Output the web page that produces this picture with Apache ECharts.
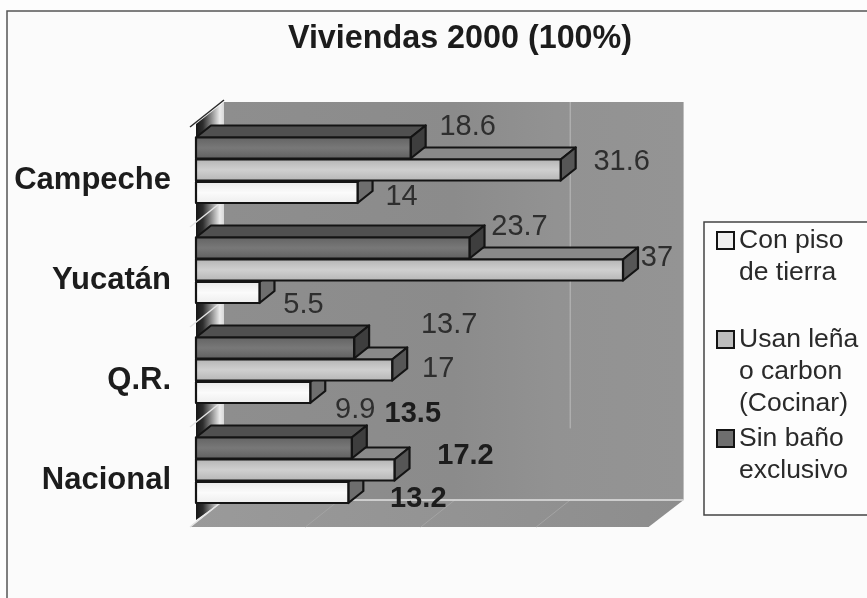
<!DOCTYPE html>
<html>
<head>
<meta charset="utf-8">
<style>html,body{margin:0;padding:0;background:#fdfdfd}#c{width:867px;height:598px}</style>
<script src="https://cdn.jsdelivr.net/npm/echarts@6/dist/echarts.min.js"></script>
</head>
<body>
<div id="c"></div>
<script>
// --- data (bottom-to-top category order, as the value axis stacks them) ---
const categories = ['Nacional', 'Q.R.', 'Yucatán', 'Campeche'];
const seriesNames = ['Con piso de tierra', 'Usan leña o carbon (Cocinar)', 'Sin baño exclusivo'];
const conPiso = [13.2, 9.9, 5.5, 14];
const usanLena = [17.2, 17, 37, 31.6];
const sinBano = [13.5, 13.7, 23.7, 18.6];
const xTicks = [0, 10, 20, 30, 40];
const legendLabels = ['Con piso\nde tierra\n', 'Usan leña\no carbon\n(Cocinar)', 'Sin baño\nexclusivo\n'];
const boldCategories = ['Nacional'];
// label nudges in pixels from the end of each bar
const nudgeConPiso = [[70, 6], [45, 17], [44, 12], [44, 4]];
const nudgeUsanLena = [[71, -14], [46, -1], [34, -12], [61, -8]];
const nudgeSinBano = [[61, -34], [95, -23], [50, -21], [57, -21]];

// --- style constants ---
const FONT = '"Liberation Sans", Arial, sans-serif';
const INK = '#141414';
const DEPTH = { dx: 15, dy: 12 };
const BACK = { dx: 28, dy: -20 };
const FRONT = { dx: -6, dy: 7 };
const BAR_RATIO = 0.21;

function gradV(stops) {
  return { type: 'linear', x: 0, y: 0, x2: 0, y2: 1,
    colorStops: stops.map((c, i) => ({ offset: i / (stops.length - 1), color: c })) };
}
function gradH(stops) {
  return { type: 'linear', x: 0, y: 0, x2: 1, y2: 0,
    colorStops: stops.map(s => ({ offset: s[0], color: s[1] })) };
}

function poly(points, fill, stroke, lw) {
  return { type: 'polygon', shape: { points },
    style: { fill, stroke: stroke || null, lineWidth: lw || 0, lineJoin: 'round' } };
}

function makeBarSeries(name, values, nudges, slot, z, colors) {
  return {
    type: 'custom', name, z, clip: false, silent: true,
    coordinateSystem: 'cartesian2d',
    itemStyle: { color: colors.swatch },
    encode: { x: 0, y: 1 },
    data: values.map((v, i) => [v, i, nudges[i][0], nudges[i][1]]),
    renderItem(params, api) {
      const end = api.coord([api.value(0), api.value(1)]);
      const start = api.coord([0, api.value(1)]);
      const band = api.size([0, 1])[1];
      const cy = end[1] + slot * band;
      const h = band * BAR_RATIO;
      const t = cy - h / 2, b = cy + h / 2;
      const x0 = start[0], x1 = end[0];
      const d = DEPTH;
      const bold = boldCategories.includes(categories[api.value(1)]);
      return {
        type: 'group',
        children: [
          poly([[x0, t], [x1, t], [x1 + d.dx, t - d.dy], [x0 + d.dx, t - d.dy]], colors.top, INK, 2.2),
          poly([[x1, t], [x1 + d.dx, t - d.dy], [x1 + d.dx, b - d.dy], [x1, b]], colors.side, INK, 2.2),
          poly([[x0, t], [x1, t], [x1, b], [x0, b]], colors.front, INK, 2.2),
          { type: 'text', z2: 50,
            style: {
              x: x1 + api.value(2), y: cy + api.value(3),
              text: String(api.value(0)),
              align: 'center', verticalAlign: 'middle',
              font: (bold ? 'bold ' : '') + '29px ' + FONT,
              fill: bold ? '#1c1c1c' : '#2e2e2e'
            } }
        ]
      };
    }
  };
}

const backdrop = {
  type: 'custom', name: '__room', z: 1, clip: false, silent: true,
  coordinateSystem: 'cartesian2d',
  encode: { x: 0, y: 1 },
  data: [[0, 0]],
  renderItem(params, api) {
    const cs = params.coordSys;
    const L = cs.x, T = cs.y, R = cs.x + cs.width, B = cs.y + cs.height;
    const band = cs.height / categories.length;
    const bl = L + BACK.dx, br = R + BACK.dx, bb = B + BACK.dy, bt = T - 18;
    const children = [
      // back wall
      poly([[bl, bt], [br - 2, bt], [br - 2, bb], [bl, bb]], gradH([[0, '#8e8e8e'], [0.5, '#8b8b8b'], [0.72, '#929292'], [1, '#949494']])),
      // floor
      poly([[L + FRONT.dx, B + FRONT.dy], [R + FRONT.dx - 3, B + FRONT.dy], [br - 2, bb], [bl, bb]], gradH([[0, '#9a9a9a'], [1, '#8d8d8d']])),
      // left wall
      poly([[L, B], [bl, bb], [bl, bt], [L, bt + 22]], gradH([[0, '#161616'], [0.25, '#2e2e2e'], [0.55, '#8c8c8c'], [0.85, '#ececec'], [1, '#d8d8d8']]))
    ];
    // gridline on back wall, faint rulings on floor
    xTicks.forEach((tk, i) => {
      const x = api.coord([tk, 0])[0];
      if (tk === 30) {
        children.push({ type: 'line', shape: { x1: x + BACK.dx, y1: bt, x2: x + BACK.dx, y2: bt + 0.82 * (bb - bt) },
          style: { stroke: '#bcbcbc', lineWidth: 1 } });
      }
      if (tk < 40) {
        children.push({ type: 'line', shape: { x1: x + FRONT.dx, y1: B + FRONT.dy, x2: x + BACK.dx, y2: bb },
          style: { stroke: i === 0 ? '#d8d8d8' : '#a4a4a4', lineWidth: 1 } });
      }
    });
    // rulings across left wall at each category boundary
    for (let i = 0; i <= categories.length; i++) {
      const y = T + i * band;
      children.push({ type: 'line',
        shape: { x1: L + FRONT.dx, y1: y + FRONT.dy, x2: bl, y2: y + BACK.dy },
        style: { stroke: i === 0 ? '#2a2a2a' : '#e4e4e4', lineWidth: 1.5 } });
    }
    // bright back edge of floor
    children.push({ type: 'line', shape: { x1: bl, y1: bb, x2: br - 2, y2: bb },
      style: { stroke: '#e2e2e2', lineWidth: 1.5 } });
    return { type: 'group', children };
  }
};

const chart = echarts.init(document.getElementById('c'), null, { renderer: 'canvas' });
chart.setOption({
  animation: false,
  backgroundColor: 'transparent',
  tooltip: { show: false },
  title: {
    text: 'Viviendas 2000 (100%)', left: 455, top: 18, textAlign: 'center',
    textStyle: { fontFamily: FONT, fontWeight: 'bold', fontSize: 32.3, color: '#1c1c1c' }
  },
  graphic: [
    { type: 'rect', z: -10, silent: true,
      shape: { x: 7, y: 11, width: 900, height: 700 },
      style: { fill: '#fbfbfb', stroke: '#555', lineWidth: 1.5 } },
    { type: 'rect', z: -5, silent: true,
      shape: { x: 704, y: 222, width: 170, height: 293 },
      style: { fill: '#fdfdfd', stroke: '#444', lineWidth: 1.5 } }
  ],
  grid: { left: 196, top: 120, width: 461.6, height: 400 },
  xAxis: { type: 'value', min: 0, max: 40, interval: 10, show: false },
  yAxis: {
    type: 'category', data: categories,
    axisLine: { show: false }, axisTick: { show: false }, splitLine: { show: false },
    axisLabel: { fontFamily: FONT, fontWeight: 'bold', fontSize: 31, color: '#1c1c1c', margin: 25, verticalAlign: 'top', lineHeight: 20 }
  },
  legend: {
    data: seriesNames, orient: 'vertical', left: 704, top: 222,
    padding: [2, 0, 0, 12],
    itemWidth: 17, itemHeight: 96, itemGap: 1,
    icon: 'path://M0 0L0 0M0 7H17V24H0ZM17 96L17 96',
    selectedMode: false,
    itemStyle: { borderColor: INK, borderWidth: 2 },
    textStyle: { fontFamily: FONT, fontSize: 26.5, lineHeight: 32, color: '#2a2a2a' },
    formatter: name => legendLabels[seriesNames.indexOf(name)]
  },
  series: [
    backdrop,
    makeBarSeries(seriesNames[0], conPiso, nudgeConPiso, 0.225, 3,
      { swatch: '#f0f0f0', front: gradV(['#e6e6e6', '#fbfbfb', '#ededed']), top: '#9a9a9a', side: '#6e6e6e' }),
    makeBarSeries(seriesNames[1], usanLena, nudgeUsanLena, 0, 4,
      { swatch: '#bdbdbd', front: gradV(['#b2b2b2', '#cfcfcf', '#b4b4b4']), top: '#8a8a8a', side: '#565656' }),
    makeBarSeries(seriesNames[2], sinBano, nudgeSinBano, -0.22, 5,
      { swatch: '#6e6e6e', front: gradV(['#626262', '#787878', '#5e5e5e']), top: '#505050', side: '#3e3e3e' })
  ]
});
</script>
</body>
</html>
